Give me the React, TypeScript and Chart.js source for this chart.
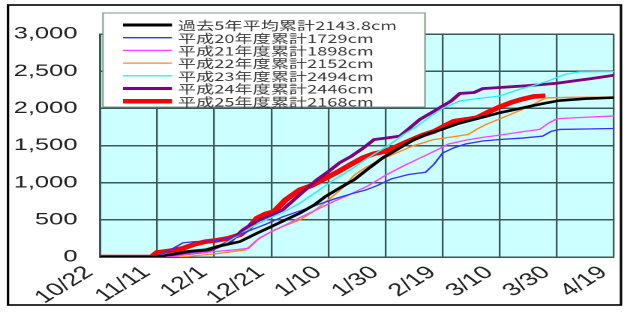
import { useEffect, useRef } from "react";
import { Chart, registerables } from "chart.js";

Chart.register(...registerables);

// ---------- data ----------
const xTickLabels = ["10/22", "11/11", "12/1", "12/21", "1/10", "1/30", "2/19", "3/10", "3/30", "4/19"];
const yTickValues = [0, 500, 1000, 1500, 2000, 2500, 3000];

const seriesLabels = [
  "過去5年平均累計2143.8cm",
  "平成20年度累計1729cm",
  "平成21年度累計1898cm",
  "平成22年度累計2152cm",
  "平成23年度累計2494cm",
  "平成24年度累計2446cm",
  "平成25年度累計2168cm",
];

const avgDays = [0, 20, 30, 37, 41, 49, 55, 60, 65, 70, 75, 79, 84, 89, 94, 99, 105, 110, 115, 120, 125, 131, 135, 140, 146, 151, 156, 161, 170, 180];
const avgValues = [0, 0, 72, 95, 140, 207, 320, 410, 500, 590, 700, 815, 930, 1040, 1190, 1334, 1470, 1581, 1660, 1720, 1790, 1851, 1890, 1941, 1990, 2031, 2070, 2105, 2130, 2144];

const h20Days = [0, 19, 24, 29, 33, 40, 46, 52, 58, 64, 70, 76, 82, 88, 93, 97, 102, 108, 114, 117, 120, 124, 128, 134, 140, 148, 155, 158, 161, 170, 180];
const h20Values = [0, 0, 80, 190, 207, 215, 260, 350, 440, 540, 620, 700, 780, 850, 900, 960, 1050, 1110, 1140, 1250, 1400, 1470, 1520, 1560, 1581, 1600, 1626, 1690, 1716, 1722, 1729];

const h21Days = [0, 25, 33, 40, 48, 52, 56, 60, 66, 70, 76, 82, 88, 94, 100, 106, 112, 118, 122, 128, 134, 140, 147, 154, 157, 160, 170, 180];
const h21Values = [0, 0, 50, 72, 100, 117, 260, 340, 450, 530, 640, 750, 850, 960, 1100, 1220, 1330, 1440, 1520, 1570, 1610, 1640, 1680, 1716, 1800, 1860, 1880, 1898];

const h22Days = [0, 28, 40, 48, 51, 55, 61, 66, 70, 75, 80, 85, 89, 92, 96, 100, 105, 110, 117, 124, 129, 132, 135, 141, 148, 152, 156, 165, 180];
const h22Values = [0, 0, 40, 80, 95, 230, 365, 440, 500, 620, 770, 930, 1100, 1180, 1266, 1340, 1420, 1500, 1580, 1620, 1650, 1720, 1780, 1874, 1986, 2060, 2140, 2148, 2152];

const h23Days = [0, 20, 26, 32, 38, 43, 48, 53, 58, 64, 70, 76, 82, 88, 93, 98, 101, 106, 111, 116, 120, 126, 132, 140, 147, 152, 157, 163, 168, 180];
const h23Values = [0, 0, 40, 90, 120, 162, 280, 400, 500, 600, 725, 880, 1040, 1180, 1311, 1430, 1500, 1640, 1760, 1900, 2000, 2099, 2130, 2166, 2257, 2310, 2369, 2459, 2490, 2494];

const h24Days = [0, 22, 26, 32, 37, 41, 46, 50, 53, 56, 60, 64, 70, 76, 80, 84, 88, 92, 96, 100, 105, 108, 112, 116, 119, 123, 126, 131, 134, 140, 148, 155, 160, 166, 172, 180];
const h24Values = [0, 0, 27, 50, 72, 130, 220, 365, 440, 500, 560, 635, 840, 1040, 1150, 1270, 1355, 1460, 1581, 1600, 1626, 1720, 1851, 1940, 2009, 2100, 2200, 2212, 2266, 2280, 2301, 2320, 2338, 2369, 2400, 2446];

const h25Days = [0, 18, 20, 24, 29, 33, 37, 41, 45, 49, 52, 55, 58, 61, 65, 70, 74, 79, 84, 88, 92, 96, 100, 104, 108, 113, 117, 121, 124, 128, 132, 136, 140, 144, 148, 152, 156];
const h25Values = [0, 0, 60, 80, 117, 170, 207, 225, 252, 300, 387, 522, 580, 612, 770, 905, 960, 1060, 1160, 1250, 1334, 1390, 1423, 1490, 1558, 1640, 1690, 1770, 1828, 1850, 1874, 1950, 2020, 2080, 2125, 2160, 2168];

// ---------- layout / style ----------
const W = 627;
const H = 312;
const SX = 1.5; // horizontal stretch of the whole picture
const CW = Math.round(W / SX);

const series = [
  { days: avgDays, values: avgValues, color: "#000000", width: 2.6, legendWidth: 3 },
  { days: h20Days, values: h20Values, color: "#3333ff", width: 1.3, legendWidth: 1.3 },
  { days: h21Days, values: h21Values, color: "#ff44ff", width: 1.3, legendWidth: 1.3 },
  { days: h22Days, values: h22Values, color: "#ff8a1c", width: 1.3, legendWidth: 1.3 },
  { days: h23Days, values: h23Values, color: "#30eeee", width: 1.3, legendWidth: 1.3 },
  { days: h24Days, values: h24Values, color: "#800080", width: 2.8, legendWidth: 3 },
  { days: h25Days, values: h25Values, color: "#ff0000", width: 4.6, legendWidth: 4.5 },
];

const GRID = "#3a5858";

const framePlugin = {
  id: "frame",
  beforeDraw(chart: any) {
    const { ctx, chartArea: a } = chart;
    ctx.save();
    ctx.fillStyle = "#ffffff";
    ctx.fillRect(0, 0, chart.width, chart.height);
    ctx.fillStyle = "#ccffff";
    ctx.fillRect(a.left, a.top, a.right - a.left, a.bottom - a.top);
    ctx.strokeStyle = "#000000";
    ctx.lineWidth = 1.6;
    ctx.strokeRect(8 / SX, 5, (621 - 8) / SX, 300);
    ctx.restore();
  },
};

const legendPlugin = {
  id: "boxLegend",
  afterDraw(chart: any) {
    const ctx = chart.ctx;
    const x0 = 103 / SX;
    const x1 = 425 / SX;
    const y0 = 13;
    const y1 = 107;
    const textX = 178 / SX;
    const firstWidth = (397 - 178) / SX;
    ctx.save();
    ctx.fillStyle = "#ffffff";
    ctx.fillRect(x0, y0, x1 - x0, y1 - y0);
    ctx.strokeStyle = "#7c9a88";
    ctx.lineWidth = 1;
    ctx.strokeRect(x0, y0, x1 - x0, y1 - y0);
    ctx.font = "12px 'Noto Sans CJK JP'";
    ctx.textBaseline = "middle";
    ctx.textAlign = "left";
    const first = String(chart.data.datasets[0].label);
    const chars0 = Array.from(first);
    const natural = chars0.reduce((w, c) => w + ctx.measureText(c).width, 0);
    const spacing = Math.max(0, (firstWidth - natural) / (chars0.length - 1));
    chart.data.datasets.forEach((ds: any, i: number) => {
      const y = 25 + i * 12.7;
      ctx.strokeStyle = ds.borderColor;
      ctx.lineWidth = ds.legendWidth;
      ctx.beginPath();
      ctx.moveTo(123 / SX, y);
      ctx.lineTo(172 / SX, y);
      ctx.stroke();
      ctx.fillStyle = "#3a3a3a";
      let x = textX;
      for (const c of Array.from(String(ds.label))) {
        ctx.fillText(c, x, y + 0.5);
        x += ctx.measureText(c).width + spacing;
      }
    });
    ctx.restore();
  },
};

export default function App() {
  const ref = useRef<HTMLCanvasElement | null>(null);

  useEffect(() => {
    if (!ref.current) return;
    const chart = new Chart(ref.current, {
      type: "line",
      data: {
        datasets: series.map((s, i) => ({
          label: seriesLabels[i],
          data: s.days.map((d, j) => ({ x: d, y: s.values[j] })),
          borderColor: s.color,
          backgroundColor: s.color,
          borderWidth: s.width,
          legendWidth: s.legendWidth,
          pointRadius: 0,
          tension: 0,
          fill: false,
        })) as any,
      },
      options: {
        animation: false,
        responsive: false,
        devicePixelRatio: 2,
        layout: { padding: { left: 0, right: CW - 614 / SX, top: 34, bottom: 0 } },
        plugins: { legend: { display: false }, tooltip: { enabled: false } },
        scales: {
          x: {
            type: "linear",
            min: 0,
            max: 180,
            afterBuildTicks: (s: any) => {
              s.ticks = xTickLabels.map((_, i) => ({ value: i * 20 }));
            },
            afterFit: (s: any) => {
              s.height = H - 257;
              s.paddingLeft = 0;
              s.paddingRight = 0;
            },
            ticks: {
              autoSkip: false,
              minRotation: 42,
              maxRotation: 42,
              padding: 5,
              labelOffset: -7,
              color: "#222222",
              font: { family: "'Liberation Sans', Arial, sans-serif", size: 18 },
              callback: (v: any) => xTickLabels[Math.round(Number(v) / 20)],
            },
            grid: { color: GRID, lineWidth: 1.2, drawTicks: false },
            border: { color: GRID, width: 1.2 },
          },
          y: {
            min: 0,
            max: 3000,
            afterBuildTicks: (s: any) => {
              s.ticks = yTickValues.map((v) => ({ value: v }));
            },
            afterFit: (s: any) => {
              s.width = 100 / SX;
              s.paddingTop = 0;
              s.paddingBottom = 0;
            },
            ticks: {
              padding: 15,
              color: "#222222",
              font: { family: "'Liberation Sans', Arial, sans-serif", size: 17 },
              callback: (v: any) => Number(v).toLocaleString("en-US"),
            },
            grid: { color: GRID, lineWidth: 1.5, drawTicks: false },
            border: { color: GRID, width: 1.5 },
          },
        },
      },
      plugins: [framePlugin, legendPlugin],
    });
    return () => chart.destroy();
  }, []);

  return (
    <div style={{ position: "absolute", left: 0, top: 0, width: W, height: H, background: "#fff" }}>
      <canvas ref={ref} width={CW} height={H} style={{ width: `${W}px`, height: `${H}px`, display: "block" }} />
    </div>
  );
}
